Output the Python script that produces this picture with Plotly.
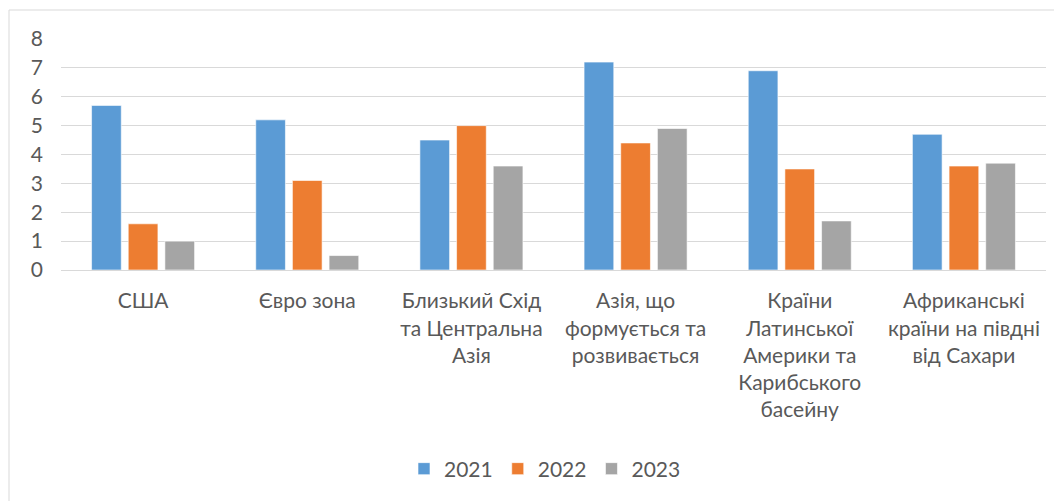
import plotly.graph_objects as go

regions = ["США", "Євро зона", "Близький Схід<br>та Центральна<br>Азія",
           "Азія, що<br>формується та<br>розвивається",
           "Країни<br>Латинської<br>Америки та<br>Карибського<br>басейну",
           "Африканські<br>країни на півдні<br>від Сахари"]
years = ["2021", "2022", "2023"]
v2021 = [5.7, 5.2, 4.5, 7.2, 6.9, 4.7]
v2022 = [1.6, 3.1, 5.0, 4.4, 3.5, 3.6]
v2023 = [1.0, 0.5, 3.6, 4.9, 1.7, 3.7]
colors = ["#5B9BD5", "#ED7D31", "#A5A5A5"]

fig = go.Figure()
for name, vals, c in zip(years, [v2021, v2022, v2023], colors):
    fig.add_trace(go.Bar(x=regions, y=vals, name=name, marker_color=c,
                         marker_line=dict(color="white", width=0.6)))

font = dict(family="Lato", size=21, color="#595959")
# page body has an 8px margin, so the figure is drawn 8px in from the top-left
OFF = 8
W, H = 1062 - OFF, 501 - OFF
L, R, T, B = 61 - OFF, 16, 39 - OFF, 231
pw, ph = W - L - R, H - T - B

fig.update_layout(
    width=W, height=H,
    margin=dict(l=L, r=R, t=T, b=B),
    paper_bgcolor="white", plot_bgcolor="white",
    font=font,
    barmode="group", bargap=0.33, bargroupgap=0.19,
    legend=dict(orientation="h", x=(545 - OFF - L) / pw, xanchor="center",
                y=(T + ph - (469 - OFF)) / ph, yanchor="middle",
                font=font, itemwidth=30, traceorder="normal"),
    showlegend=True,
)
fig.update_yaxes(range=[0, 8], dtick=1, showgrid=True, gridcolor="#D9D9D9",
                 gridwidth=1, zeroline=False, showline=False, ticks="",
                 ticklabelstandoff=17, tickfont=font)
fig.update_xaxes(showline=True, linecolor="#D9D9D9", linewidth=1, ticks="",
                 ticklabelstandoff=12, tickfont=font, tickangle=0)

# thin chart border (left and top edges visible)
bx = (9 - OFF - L) / pw
by = 1 + (T - (10 - OFF)) / ph
fig.add_shape(type="line", xref="paper", yref="paper", x0=bx, x1=bx, y0=-1.2, y1=by,
              line=dict(color="#D9D9D9", width=1))
fig.add_shape(type="line", xref="paper", yref="paper", x0=bx, x1=1.2, y0=by, y1=by,
              line=dict(color="#D9D9D9", width=1))

fig.write_html("out.html")
